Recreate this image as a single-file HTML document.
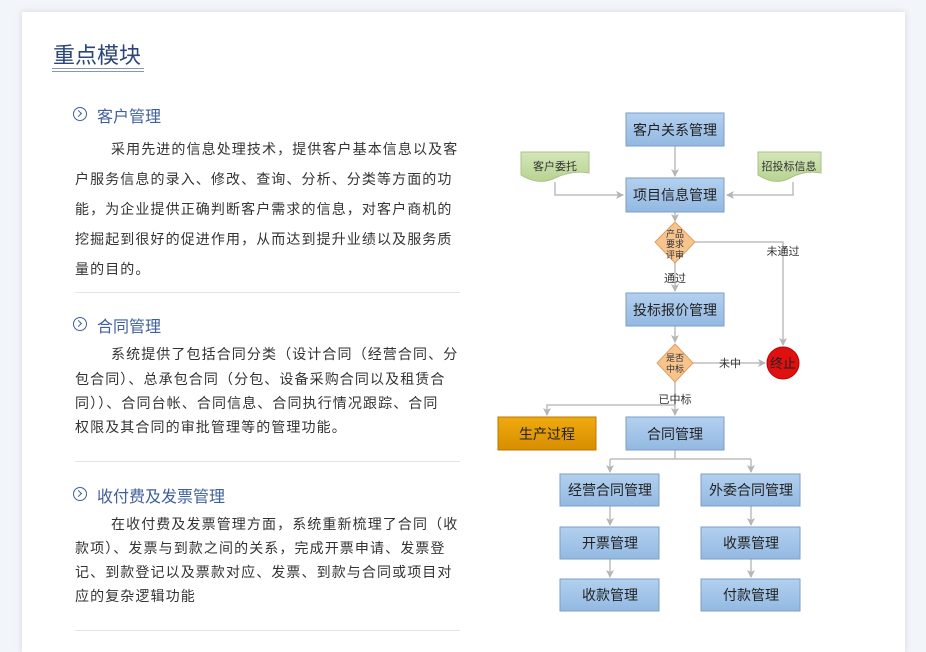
<!DOCTYPE html>
<html><head><meta charset="utf-8"><style>
body{margin:0;width:926px;height:640px;background:#f2f5f9;position:relative;overflow:hidden;font-family:"Liberation Sans","Noto Sans CJK SC",sans-serif}
.card{position:absolute;left:22px;top:12px;width:883px;height:640px;background:#fff;box-shadow:0 0 6px rgba(150,165,190,.35)}
.t{position:absolute;white-space:nowrap}
.title{left:53px;top:38px;font-size:22px;color:#2d4677}
.ul{position:absolute;left:52px;width:92px;height:1px;background:#8a97aa}
.h{font-size:16px;color:#3f5f9e;left:97px}
.ic{position:absolute;left:73px;width:12px;height:12px;border:1.5px solid #3f5f9e;border-radius:50%}
.ic:after{content:"";position:absolute;left:2px;top:3px;width:4px;height:4px;border-right:1.5px solid #3f5f9e;border-top:1.5px solid #3f5f9e;transform:rotate(45deg)}
.p{font-size:14px;color:#333;left:75px;letter-spacing:1.1px}
.sep{position:absolute;left:75px;width:385px;height:1px;background:#e2e4e8}
</style></head><body>
<div class="card"></div>
<div class="t title">重点模块</div>
<div class="ul" style="top:68px"></div><div class="ul" style="top:71px"></div>

<div class="ic" style="top:107px"></div><div class="t h" style="top:103px">客户管理</div>
<div class="t p" style="top:139px;left:111px">采用先进的信息处理技术，提供客户基本信息以及客</div>
<div class="t p" style="top:169px">户服务信息的录入、修改、查询、分析、分类等方面的功</div>
<div class="t p" style="top:199px">能，为企业提供正确判断客户需求的信息，对客户商机的</div>
<div class="t p" style="top:229px">挖掘起到很好的促进作用，从而达到提升业绩以及服务质</div>
<div class="t p" style="top:259px">量的目的。</div>
<div class="sep" style="top:292px"></div>

<div class="ic" style="top:317px"></div><div class="t h" style="top:313px">合同管理</div>
<div class="t p" style="top:344px;left:111px">系统提供了包括合同分类（设计合同（经营合同、分</div>
<div class="t p" style="top:369px">包合同）、总承包合同（分包、设备采购合同以及租赁合</div>
<div class="t p" style="top:393px">同））、合同台帐、合同信息、合同执行情况跟踪、合同</div>
<div class="t p" style="top:417px">权限及其合同的审批管理等的管理功能。</div>
<div class="sep" style="top:461px"></div>

<div class="ic" style="top:487px"></div><div class="t h" style="top:483px">收付费及发票管理</div>
<div class="t p" style="top:514px;left:111px">在收付费及发票管理方面，系统重新梳理了合同（收</div>
<div class="t p" style="top:538px">款项）、发票与到款之间的关系，完成开票申请、发票登</div>
<div class="t p" style="top:562px">记、到款登记以及票款对应、发票、到款与合同或项目对</div>
<div class="t p" style="top:586px">应的复杂逻辑功能</div>
<div class="sep" style="top:630px"></div>

<svg style="position:absolute;left:0;top:0" width="926" height="640" font-family="Liberation Sans, Noto Sans CJK SC, sans-serif">
<defs>
<linearGradient id="b" x1="0" y1="0" x2="0" y2="1"><stop offset="0" stop-color="#b3d0ef"/><stop offset="1" stop-color="#93b9e2"/></linearGradient>
<linearGradient id="o" x1="0" y1="0" x2="0" y2="1"><stop offset="0" stop-color="#f0aa10"/><stop offset="1" stop-color="#d88e00"/></linearGradient>
<linearGradient id="g" x1="0" y1="0" x2="0" y2="1"><stop offset="0" stop-color="#d4e6b8"/><stop offset="1" stop-color="#b7d391"/></linearGradient>
<marker id="a" markerWidth="8" markerHeight="8" refX="7" refY="4" orient="auto" markerUnits="userSpaceOnUse"><path d="M0,0 L8,4 L0,8 L2,4z" fill="#b5b5b5"/></marker>
</defs>
<g stroke="#bdbdbd" stroke-width="1.5" fill="none">
<path d="M675 146V176" marker-end="url(#a)"/>
<path d="M555 182V195H623" marker-end="url(#a)"/>
<path d="M793 182V195H727" marker-end="url(#a)"/>
<path d="M675 212V221" marker-end="url(#a)"/>
<path d="M675 263V291" marker-end="url(#a)"/>
<path d="M695 242H783V345" marker-end="url(#a)"/>
<path d="M675 326V342" marker-end="url(#a)"/>
<path d="M693 363H765" marker-end="url(#a)"/>
<path d="M675 382V415" marker-end="url(#a)"/>
<path d="M675 405H547V415" marker-end="url(#a)"/>
<path d="M675 450V459M610 459H751"/>
<path d="M610 459V472" marker-end="url(#a)"/>
<path d="M751 459V472" marker-end="url(#a)"/>
<path d="M610 506V525" marker-end="url(#a)"/>
<path d="M751 506V525" marker-end="url(#a)"/>
<path d="M610 559V577" marker-end="url(#a)"/>
<path d="M751 559V577" marker-end="url(#a)"/>
</g>
<g stroke="#7e9ec6" fill="url(#b)">
<rect x="626" y="113" width="98" height="33"/>
<rect x="626" y="178" width="98" height="34"/>
<rect x="626" y="293" width="98" height="33"/>
<rect x="626" y="417" width="98" height="33"/>
<rect x="560" y="474" width="99" height="32"/>
<rect x="701" y="474" width="99" height="32"/>
<rect x="560" y="527" width="99" height="32"/>
<rect x="701" y="527" width="99" height="32"/>
<rect x="560" y="579" width="99" height="32"/>
<rect x="701" y="579" width="99" height="32"/>
</g>
<rect x="498" y="417" width="98" height="33" fill="url(#o)" stroke="#b87900"/>
<path d="M521 152H589V173Q572 170 555 178T521 175Z" fill="url(#g)" stroke="#a9c38a"/>
<path d="M758 152H821V173Q805 170 790 178T758 175Z" fill="url(#g)" stroke="#a9c38a"/>
<path d="M675 222L695 242L675 263L655 242Z" fill="#f7c48d" stroke="#e0a060"/>
<path d="M675 344L693 363L675 382L657 363Z" fill="#f7c48d" stroke="#e0a060"/>
<circle cx="783" cy="363" r="16" fill="#e01010" stroke="#b00"/>
<g font-size="14" fill="#222" text-anchor="middle">
<text x="675" y="135">客户关系管理</text>
<text x="675" y="200">项目信息管理</text>
<text x="675" y="315">投标报价管理</text>
<text x="675" y="439">合同管理</text>
<text x="547" y="439">生产过程</text>
<text x="610" y="495">经营合同管理</text>
<text x="751" y="495">外委合同管理</text>
<text x="610" y="548">开票管理</text>
<text x="751" y="548">收票管理</text>
<text x="610" y="600">收款管理</text>
<text x="751" y="600">付款管理</text>
<text x="783" y="368" font-size="13">终止</text>
</g>
<g font-size="11" fill="#333" text-anchor="middle">
<text x="555" y="170">客户委托</text>
<text x="789" y="170">招投标信息</text>
<text x="783" y="255">未通过</text>
<text x="675" y="282">通过</text>
<text x="730" y="367">未中</text>
<text x="675" y="403">已中标</text>
</g>
<g font-size="9" fill="#333" text-anchor="middle">
<text x="675" y="237">产品</text><text x="675" y="247">要求</text><text x="675" y="258">评审</text>
<text x="675" y="361">是否</text><text x="675" y="372">中标</text>
</g>
</svg>
</body></html>
